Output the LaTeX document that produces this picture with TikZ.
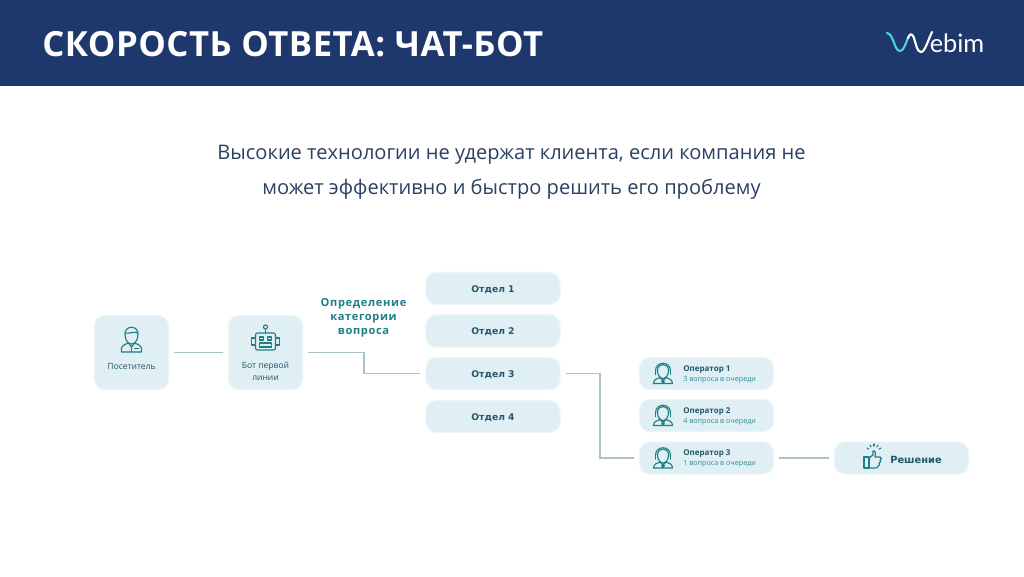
\documentclass[tikz,border=0pt]{standalone}
\usepackage{fontspec}
\setmainfont{Open Sans}
\newfontfamily\titlefont[LetterSpace=1.5]{Open Sans}
\newfontfamily\boxfont{DejaVu Sans}
\newfontfamily\spacedfont[LetterSpace=6]{Open Sans}
\newfontfamily\logofont{Lato}
\definecolor{hdr}{HTML}{1E386D}
\definecolor{boxfill}{HTML}{DFEFF4}
\definecolor{boxedge}{HTML}{EAF5F8}
\definecolor{teal1}{HTML}{1C7F86}
\definecolor{teal2}{HTML}{2A8E95}
\definecolor{darkt}{HTML}{25566B}
\definecolor{wire}{HTML}{A9C3C6}
\definecolor{bodyt}{HTML}{2B4063}
\definecolor{cyanl}{HTML}{4FD0D8}
\usetikzlibrary{calc}
\tikzset{
  x=0.75pt,y=-0.75pt,
  card/.style={draw=boxedge,line width=0.9pt,fill=boxfill,rounded corners=8pt,inner sep=0pt,minimum width=100.5pt,minimum height=24pt,text=darkt},
  tall/.style={card,minimum width=55.5pt,minimum height=55.5pt,rounded corners=8pt},
  wireline/.style={draw=wire,line width=1.05pt,shorten >=3.7pt,shorten <=3.7pt},
  icon/.style={draw=teal1,line width=0.85pt,line join=round,line cap=round},
  pics/visitor/.style={code={
    \draw[icon] (-6.5,-5) .. controls (-6.5,-14) and (6.5,-14) .. (6.5,-5) .. controls (6.5,2) and (3,5) .. (0,5) .. controls (-3,5) and (-6.5,2) .. (-6.5,-5) -- cycle;
    \draw[icon] (-6.5,-6) .. controls (-3,-5) and (3,-8) .. (6.5,-6);
    \draw[icon] (-10,13) .. controls (-11,8) and (-9,6) .. (-3,4) -- (0,8) -- (3,4) .. controls (9,6) and (11,8) .. (10,13) -- cycle;
    \draw[icon] (0,8) -- (0,13);
    \draw[icon] (3,9.5) -- (7,9.5);
  }},
  pics/robot/.style={code={
    \draw[icon,rounded corners=1.5pt] (-10,-7) rectangle (10,10);
    \draw[icon] (-10,-2) -- (-14,-2) -- (-14,5) -- (-10,5);
    \draw[icon] (10,-2) -- (14,-2) -- (14,5) -- (10,5);
    \draw[icon] (0,-7) -- (0,-11);
    \draw[icon] (0,-13) circle[radius=2];
    \draw[icon] (-6,-3) rectangle (-2,0);
    \draw[icon] (2,-3) rectangle (6,0);
    \draw[icon] (-6,3) rectangle (6,7);
  }},
  pics/operator/.style={code={
    \draw[icon] (-5.5,-3) .. controls (-5.5,-11) and (5.5,-11) .. (5.5,-3) .. controls (5.5,2) and (2.5,5) .. (0,5) .. controls (-2.5,5) and (-5.5,2) .. (-5.5,-3) -- cycle;
    \draw[icon] (-7.5,-2) .. controls (-8,-13) and (8,-13) .. (7.5,-2);
    \draw[icon,line width=1.2pt] (-7.5,-3) -- (-7.5,1);
    \draw[icon,line width=1.2pt] (7.5,-3) -- (7.5,1);
    \draw[icon] (-9.5,10) .. controls (-9.5,6) and (-6,5) .. (-3,4) -- (0,7) -- (3,4) .. controls (6,5) and (9.5,6) .. (9.5,10) -- cycle;
    \fill[teal1] (-2,7) -- (0,7) -- (2,7) -- (1,10) -- (-1,10) -- cycle;
  }},
  pics/thumb/.style={code={
    \draw[icon] (-8,-1) rectangle (-3,10);
    \draw[icon] (-3,0) -- (1,-3) -- (1,-7) .. controls (3,-8) and (4,-5) .. (3,-1) -- (8,-1) .. controls (10,-1) and (10,2) .. (8,2) .. controls (9,3) and (9,5) .. (7,5) .. controls (8,6) and (8,8) .. (6,8) .. controls (6,10) and (5,10) .. (3,10) -- (-3,10);
    \foreach \a in {-150,-120,-90,-60,-30}
      \draw[icon] ($(2,-6)+(\a:6)$) -- ($(2,-6)+(\a:8)$);
  }},
}
\begin{document}
\begin{tikzpicture}
\useasboundingbox (0,0) rectangle (1024,576);
\fill[white] (0,0) rectangle (1024,576);
\fill[hdr] (0,0) rectangle (1024,86);
\node[anchor=west,inner sep=0pt,text=white,font=\titlefont\bfseries\fontsize{26}{30}\selectfont] (title) at (42,44) {СКОРОСТЬ ОТВЕТА: ЧАТ-БОТ};

% logo
\draw[cyanl,line width=1.6pt,line cap=round] (887,33) .. controls (894,34) and (894,51) .. (900,51) .. controls (904,51) and (906,42) .. (908,38);
\draw[white,line width=1.6pt,line cap=round,line join=round] (908,38) .. controls (910,33) and (912,33) .. (914,38) .. controls (916,44) and (917,52) .. (921,52) .. controls (925,52) and (928,40) .. (932,32);
\node[anchor=base west,inner sep=0pt,text=white,font=\logofont\fontsize{19}{22}\selectfont] (logo) at (929.5,52.5) {ebim};

\node[inner sep=0pt,text=bodyt,font=\fontsize{15.05}{20}\selectfont] (l1) at (511.5,155) {Высокие технологии не удержат клиента, если компания не};
\node[inner sep=0pt,text=bodyt,font=\fontsize{15.05}{20}\selectfont] (l2) at (511.5,189) {может эффективно и быстро решить его проблему};

% boxes
\node[tall] (vis) at (131.5,352.5) {};
\node[tall] (bot) at (265.5,352.5) {};
\node[card] (d1) at (493,288.5) {};
\node[card] (d2) at (493,331) {};
\node[card] (d3) at (493,373.5) {};
\node[card] (d4) at (493,416.5) {};
\node[card] (o1) at (706.5,373.5) {};
\node[card] (o2) at (706.5,415.5) {};
\node[card] (o3) at (706.5,458) {};
\node[card] (sol) at (901.5,458) {};

% connectors
\draw[wireline] (vis.east) -- (vis.east -| bot.west);
\draw[wireline] (bot.east) -- (364,352.5) -- (364,373.5) -- (d3.west);
\draw[wireline] (d3.east) -- (600,373.5) -- (600,458) -- (o3.west);
\draw[wireline] (o3.east) -- (sol.west);

% labels
\node[font=\fontsize{6.4}{9}\selectfont,text=darkt,inner sep=0pt] (visl) at (131.5,366.5) {Посетитель};
\node[font=\fontsize{6.4}{8.7}\selectfont,text=darkt,inner sep=0pt,align=center] (botl) at (265.5,371) {Бот первой\\линии};
\node[font=\spacedfont\bfseries\fontsize{8.3}{10.4}\selectfont,text=teal1,inner sep=0pt,align=center] (cat) at (363.5,317.5) {Определение\\категории\\вопроса};
\foreach \n/\t in {d1/Отдел 1,d2/Отдел 2,d3/Отдел 3,d4/Отдел 4}
  \node[font=\boxfont\bfseries\fontsize{6.9}{9}\selectfont,text=darkt,inner sep=0pt] at ($(\n)+(0,0.8)$) {\t};
\foreach \n/\a/\b in {o1/Оператор 1/3 вопроса в очереди,o2/Оператор 2/4 вопроса в очереди,o3/Оператор 3/1 вопроса в очереди}{
  \node[anchor=west,font=\bfseries\fontsize{6}{8}\selectfont,text=darkt,inner sep=0pt] at ($(\n.center)+(-23.5,-4)$) {\a};
  \node[anchor=west,font=\fontsize{5.4}{7}\selectfont,text=teal2,inner sep=0pt] at ($(\n.center)+(-23.5,6)$) {\b};
  \pic at ($(\n.center)+(-43.5,0)$) {operator};
}
\node[anchor=west,font=\boxfont\bfseries\fontsize{7.4}{9}\selectfont,text=darkt,inner sep=0pt] (soll) at (890,459.5) {Решение};
\pic at (872,458) {thumb};
\pic at (131.5,339) {visitor};
\pic at (265.5,340) {robot};
\end{tikzpicture}
\end{document}
